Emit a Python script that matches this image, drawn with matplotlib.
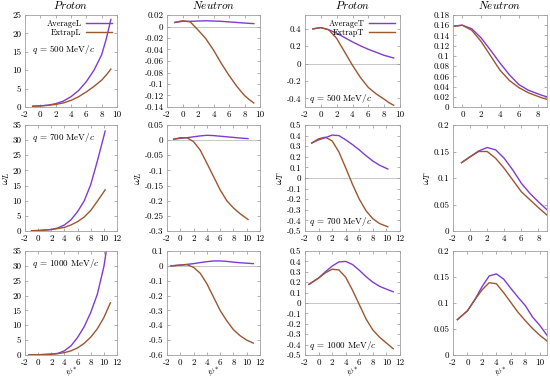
import numpy as np
import matplotlib
matplotlib.use('Agg')
import matplotlib.pyplot as plt
from matplotlib.ticker import FuncFormatter

plt.rcParams['font.family'] = 'serif'
plt.rcParams['font.serif'] = ['cmr10', 'DejaVu Serif']
plt.rcParams['mathtext.fontset'] = 'cm'
plt.rcParams['axes.unicode_minus'] = False
plt.rcParams['axes.formatter.use_mathtext'] = False

# psi* grids for the three momentum transfers
x500 = [-1, 0, 1, 2, 3, 4, 5, 6, 7, 8, 8.6, 9.2]
x700 = [-1, 0, 1, 2, 3, 4, 5, 6, 7, 8, 9, 10.2]
x1000 = [-1.4, 0, 1, 2, 3, 4, 5, 6, 7, 8, 9, 10, 11]

# proton longitudinal
pL500_avg = [0.2, 0.3, 0.5, 0.9, 1.6, 2.8, 4.5, 6.9, 10.0, 14.2, 18.5, 23.8]
pL500_ext = [0.2, 0.3, 0.45, 0.7, 1.1, 1.8, 2.8, 4.1, 5.6, 7.3, 8.7, 10.3]
pL700_avg = [0.1, 0.15, 0.3, 0.5, 1.0, 2.0, 3.7, 6.4, 9.9, 15.3, 23.0, 33.0]
pL700_ext = [0.1, 0.15, 0.3, 0.5, 0.8, 1.2, 2.0, 3.1, 4.6, 6.8, 9.8, 13.6]
pL1000_avg = [0.05, 0.1, 0.2, 0.3, 0.55, 1.4, 3.1, 5.9, 9.5, 14.3, 20.4, 29.7, 44.0]
pL1000_ext = [0.05, 0.08, 0.15, 0.25, 0.45, 0.8, 1.4, 2.4, 3.9, 6.0, 8.8, 12.6, 17.6]

# neutron longitudinal
nL500_avg = [0.007, 0.009, 0.009, 0.0095, 0.01, 0.0095, 0.009, 0.008, 0.007, 0.006, 0.0055, 0.005]
nL500_ext = [0.007, 0.01, 0.008, -0.006, -0.021, -0.041, -0.064, -0.085, -0.104, -0.12, -0.127, -0.133]
nL700_avg = [0.003, 0.006, 0.008, 0.011, 0.014, 0.016, 0.015, 0.013, 0.011, 0.009, 0.007, 0.005]
nL700_ext = [0.003, 0.008, 0.008, -0.005, -0.033, -0.076, -0.12, -0.164, -0.2, -0.224, -0.243, -0.262]
nL1000_avg = [0.0, 0.005, 0.01, 0.015, 0.022, 0.028, 0.033, 0.033, 0.03, 0.025, 0.021, 0.018, 0.015]
nL1000_ext = [0.0, 0.005, 0.008, -0.01, -0.05, -0.12, -0.21, -0.30, -0.37, -0.43, -0.47, -0.50, -0.52]

# proton transverse
pT500_avg = [0.40, 0.415, 0.39, 0.35, 0.30, 0.25, 0.205, 0.165, 0.13, 0.095, 0.08, 0.065]
pT500_ext = [0.40, 0.415, 0.39, 0.29, 0.135, -0.02, -0.16, -0.275, -0.35, -0.41, -0.45, -0.48]
pT700_avg = [0.33, 0.36, 0.38, 0.405, 0.40, 0.36, 0.315, 0.265, 0.21, 0.16, 0.12, 0.085]
pT700_ext = [0.33, 0.37, 0.385, 0.35, 0.245, 0.095, -0.06, -0.2, -0.31, -0.385, -0.43, -0.46]
pT1000_avg = [0.18, 0.24, 0.30, 0.355, 0.395, 0.40, 0.37, 0.315, 0.253, 0.2, 0.16, 0.133, 0.108]
pT1000_ext = [0.18, 0.24, 0.29, 0.325, 0.318, 0.247, 0.123, -0.015, -0.154, -0.26, -0.33, -0.385, -0.44]

# neutron transverse
nT500_avg = [0.158, 0.16, 0.153, 0.135, 0.111, 0.086, 0.063, 0.044, 0.033, 0.026, 0.022, 0.019]
nT500_ext = [0.158, 0.16, 0.15, 0.128, 0.1, 0.072, 0.052, 0.038, 0.028, 0.021, 0.017, 0.014]
nT700_avg = [0.129, 0.140, 0.151, 0.1575, 0.153, 0.137, 0.115, 0.09, 0.071, 0.055, 0.04, 0.028]
nT700_ext = [0.129, 0.140, 0.150, 0.15, 0.137, 0.118, 0.096, 0.074, 0.059, 0.044, 0.030, 0.020]
nT1000_avg = [0.068, 0.085, 0.106, 0.131, 0.152, 0.156, 0.146, 0.128, 0.111, 0.095, 0.073, 0.057, 0.038]
nT1000_ext = [0.068, 0.085, 0.106, 0.125, 0.139, 0.137, 0.12, 0.101, 0.082, 0.066, 0.051, 0.038, 0.027]

q_labels = ['500', '700', '1000']
titles = ['Proton', 'Neutron', 'Proton', 'Neutron']

xs = [x500, x700, x1000]
avg = [[pL500_avg, nL500_avg, pT500_avg, nT500_avg],
       [pL700_avg, nL700_avg, pT700_avg, nT700_avg],
       [pL1000_avg, nL1000_avg, pT1000_avg, nT1000_avg]]
ext = [[pL500_ext, nL500_ext, pT500_ext, nT500_ext],
       [pL700_ext, nL700_ext, pT700_ext, nT700_ext],
       [pL1000_ext, nL1000_ext, pT1000_ext, nT1000_ext]]

xlims = [[(-2, 10), (-2, 10), (-2, 10), (-1, 9)],
         [(-2, 12), (-2, 12), (-2, 12), (-2, 9)],
         [(-2, 12), (-2, 12), (-2, 12), (-2, 11)]]
ylims = [[(0, 25, 5), (-0.14, 0.02, 0.02), (-0.5, 0.56, 0.2), (0, 0.18, 0.02)],
         [(0, 35, 5), (-0.3, 0.05, 0.05), (-0.5, 0.5, 0.1), (0, 0.2, 0.05)],
         [(0, 35, 5), (-0.6, 0.1, 0.1), (-0.5, 0.5, 0.1), (0, 0.2, 0.05)]]

purple = '#7e3cd2'
brown = '#9c5630'
W, H = 550, 379
col_px = [(25, 117), (167, 260), (305, 400), (453, 547)]
row_px = [(15, 107), (125, 231), (251, 355)]

fig = plt.figure(figsize=(W / 100, H / 100), dpi=100)
fmt = FuncFormatter(lambda v, p: '%g' % (round(v, 4) + 0.0))

for i in range(3):
    for j in range(4):
        l, r = col_px[j]
        t, b = row_px[i]
        ax = fig.add_axes([l / W, 1 - b / H, (r - l) / W, (b - t) / H])
        ax.plot(xs[i], avg[i][j], color=purple, lw=1.0, label='Average' + ('L' if j < 2 else 'T'))
        ax.plot(xs[i], ext[i][j], color=brown, lw=1.0, label='Extrap' + ('L' if j < 2 else 'T'))
        if j in (1, 2):
            ax.axhline(0, color='#b0b0b0', lw=0.5, zorder=0)
        ax.set_xlim(*xlims[i][j])
        lo, hi, st = ylims[i][j]
        ax.set_ylim(lo, hi)
        top = hi if (i, j) != (0, 2) else 0.4
        bot = lo if (i, j) != (0, 2) else -0.4
        ax.set_yticks(np.arange(bot, top + st / 2, st))
        x0, x1 = xlims[i][j]
        ax.set_xticks(np.arange(x0 + (x0 % 2), x1 + 0.01, 2))
        ax.xaxis.set_major_formatter(fmt)
        ax.yaxis.set_major_formatter(fmt)
        ax.tick_params(direction='in', length=2.5, width=0.5, color='#909090',
                       labelsize=6.5, pad=2.5, top=True, right=True)
        for s in ax.spines.values():
            s.set_color('#a0a0a0')
            s.set_linewidth(0.6)
        if i == 0:
            ax.set_title('$' + titles[j] + '$', fontsize=8, pad=4)
        if i == 1:
            ax.set_ylabel(r'$\omega_L$' if j < 2 else r'$\omega_T$', fontsize=8, labelpad=0.5)
        if i == 2:
            ax.set_xlabel(r'$\psi^{*}$', fontsize=7, labelpad=-0.5)
        if i == 0 and j in (0, 2):
            ax.legend(loc='upper right', frameon=False, fontsize=6, handlelength=3.2,
                      handletextpad=0.5, borderaxespad=0.15, labelspacing=0.1, markerfirst=False)
        qtxt = '$q$ = ' + q_labels[i] + ' MeV/$c$'
        if j == 0:
            ax.text(0.08, 0.63 if i == 0 else 0.88, qtxt, transform=ax.transAxes, fontsize=6.5,
                    ha='left', va='center')
        if j == 2:
            ax.text(0.04, 0.09, qtxt, transform=ax.transAxes, fontsize=6.5,
                    ha='left', va='center')

fig.savefig('out.png', dpi=100)
